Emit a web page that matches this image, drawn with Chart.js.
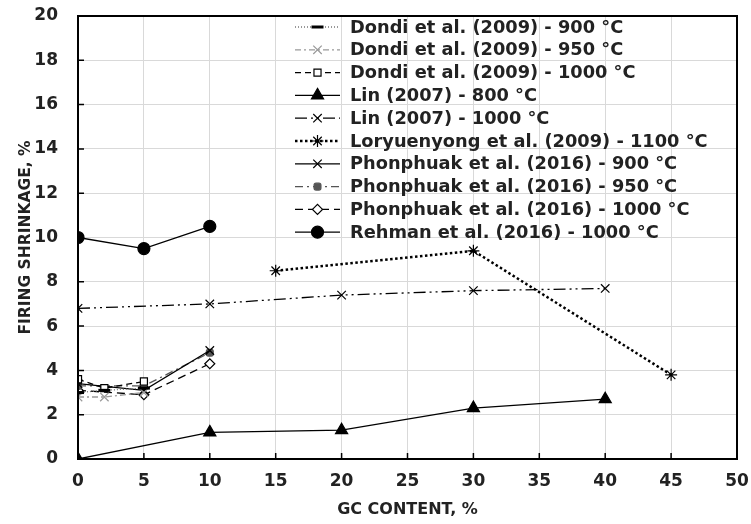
<!DOCTYPE html>
<html>
<head>
<meta charset="utf-8">
<script src="https://cdn.jsdelivr.net/npm/chart.js@4"></script>
<style>
  html, body { margin: 0; padding: 0; background: #fff; }
</style>
</head>
<body>
<canvas id="myChart" width="751" height="524"></canvas>
<script>
// data
var dondiX = [0, 2, 5]
var dondi900 = [3.0, 3.1, 3.2]
var dondi950 = [2.8, 2.8, 3.0]
var dondi1000 = [3.6, 3.2, 3.5]
var linX = [0, 10, 20, 30, 40]
var lin800 = [0, 1.2, 1.3, 2.3, 2.7]
var lin1000 = [6.8, 7.0, 7.4, 7.6, 7.7]
var loryX = [15, 30, 45]
var lory1100 = [8.5, 9.4, 3.8]
var phonX = [0, 5, 10]
var phon900 = [3.4, 3.1, 4.9]
var phon950 = [3.3, 3.3, 4.8]
var phon1000 = [3.1, 2.9, 4.3]
var rehmanX = [0, 5, 10]
var rehman1000 = [10, 9.5, 10.5]
var seriesNames = [
  "Dondi et al. (2009) - 900 °C",
  "Dondi et al. (2009) - 950 °C",
  "Dondi et al. (2009) - 1000 °C",
  "Lin (2007) - 800 °C",
  "Lin (2007) - 1000 °C",
  "Loryuenyong et al. (2009) - 1100 °C",
  "Phonphuak et al. (2016) - 900 °C",
  "Phonphuak et al. (2016) - 950 °C",
  "Phonphuak et al. (2016) - 1000 °C",
  "Rehman et al. (2016) - 1000 °C"
]
var xTicks = [0, 5, 10, 15, 20, 25, 30, 35, 40, 45, 50]
var yTicks = [0, 2, 4, 6, 8, 10, 12, 14, 16, 18, 20]

function pts(xs, ys) {
  return xs.map((x, i) => ({ x: x, y: ys[i] }))
}

var fontFam = "'DejaVu Sans', sans-serif"

function ds(i, xs, ys, o) {
  return Object.assign({
    label: seriesNames[i],
    data: pts(xs, ys),
    borderColor: "#000",
    backgroundColor: "#000",
    pointBorderColor: "#000",
    pointBackgroundColor: "#000",
    borderWidth: 1.3,
    pointRadius: 5,
    pointBorderWidth: 1.2,
    borderDash: [],
    fill: false,
    tension: 0
  }, o)
}

var datasets = [
  ds(0, dondiX, dondi900, { borderColor: "#777", borderDash: [1, 2], pointStyle: "line", pointBorderWidth: 3, pointRadius: 6 }),
  ds(1, dondiX, dondi950, { borderColor: "#999", borderDash: [6, 3, 2, 3], pointStyle: "crossRot", pointBorderColor: "#999", pointRadius: 6 }),
  ds(2, dondiX, dondi1000, { borderDash: [6, 4], pointStyle: "rect", pointBackgroundColor: "#fff", pointRadius: 5 }),
  ds(3, linX, lin800, { pointStyle: "triangle", pointRadius: 7 }),
  ds(4, linX, lin1000, { borderDash: [12, 4, 2, 4, 2, 4], pointStyle: "crossRot", pointRadius: 6 }),
  ds(5, loryX, lory1100, { borderDash: [2.5, 2.5], borderWidth: 2.5, pointStyle: "star", pointRadius: 6 }),
  ds(6, phonX, phon900, { pointStyle: "crossRot", pointRadius: 6 }),
  ds(7, phonX, phon950, { borderColor: "#555", borderDash: [8, 4, 2, 4], pointStyle: "rectRounded", pointBackgroundColor: "#555", pointBorderColor: "#555", pointRadius: 4 }),
  ds(8, phonX, phon1000, { borderDash: [8, 5], pointStyle: "rectRot", pointBackgroundColor: "#fff", pointRadius: 5 }),
  ds(9, rehmanX, rehman1000, { pointStyle: "circle", pointRadius: 6 })
]

// frame, inner tick marks and the line+marker legend
var extras = {
  id: "extras",
  afterDraw(chart) {
    let ctx = chart.ctx
    let a = chart.chartArea
    let xs = chart.scales.x, ys = chart.scales.y
    ctx.save()
    ctx.strokeStyle = "#000"
    ctx.lineWidth = 2
    ctx.strokeRect(a.left, a.top, a.right - a.left, a.bottom - a.top)
    ctx.lineWidth = 1.5
    ctx.beginPath()
    yTicks.forEach(v => {
      let y = ys.getPixelForValue(v)
      ctx.moveTo(a.left, y); ctx.lineTo(a.left + 6, y)
    })
    xTicks.forEach(v => {
      let x = xs.getPixelForValue(v)
      ctx.moveTo(x, a.bottom); ctx.lineTo(x, a.bottom - 6)
    })
    ctx.stroke()

    // legend
    let x0 = 295, x1 = 340, tx = 350, y0 = 27, step = 22.8
    ctx.font = "bold 17.8px " + fontFam
    ctx.textBaseline = "middle"
    ctx.textAlign = "left"
    chart.data.datasets.forEach((d, i) => {
      let y = y0 + i * step
      ctx.strokeStyle = d.borderColor
      ctx.lineWidth = d.borderWidth
      ctx.setLineDash(d.borderDash)
      ctx.beginPath(); ctx.moveTo(x0, y); ctx.lineTo(x1, y); ctx.stroke()
      ctx.setLineDash([])
      ctx.strokeStyle = d.pointBorderColor
      ctx.fillStyle = d.pointBackgroundColor
      ctx.lineWidth = d.pointBorderWidth
      Chart.helpers.drawPoint(ctx, { pointStyle: d.pointStyle, radius: d.pointRadius, rotation: 0, borderWidth: d.pointBorderWidth }, (x0 + x1) / 2, y)
      ctx.fillStyle = "#222"
      ctx.fillText(d.label, tx, y + 1)
    })
    ctx.restore()
  }
}

Chart.defaults.font.family = fontFam
Chart.defaults.color = "#222"

new Chart("myChart", {
  type: "line",
  data: { datasets: datasets },
  options: {
    responsive: false,
    animation: false,
    devicePixelRatio: 1,
    layout: { padding: { top: 16, right: 14, left: 0, bottom: 0 } },
    plugins: {
      legend: { display: false },
      tooltip: { enabled: false }
    },
    scales: {
      x: {
        type: "linear",
        min: 0, max: 50,
        afterBuildTicks: s => { s.ticks = xTicks.map(v => ({ value: v })) },
        afterFit: s => { s.height = 65; s.paddingLeft = 0; s.paddingRight = 0 },
        grid: { color: "#d9d9d9", drawTicks: false },
        border: { color: "#000", width: 2 },
        ticks: { padding: 12, font: { size: 17, weight: "bold" }, color: "#222" },
        title: { display: true, text: "GC CONTENT, %", font: { size: 16, weight: "bold" }, color: "#222", padding: { top: 0, bottom: 5 } }
      },
      y: {
        min: 0, max: 20,
        afterBuildTicks: s => { s.ticks = yTicks.map(v => ({ value: v })) },
        afterFit: s => { s.width = 78; s.paddingTop = 0; s.paddingBottom = 0 },
        grid: { color: "#d9d9d9", drawTicks: false },
        border: { color: "#000", width: 2 },
        ticks: { padding: 20, font: { size: 17, weight: "bold" }, color: "#222" },
        title: { display: true, text: "FIRING SHRINKAGE, %", font: { size: 15.5, weight: "bold" }, color: "#222", padding: { top: 17, bottom: 0 } }
      }
    }
  },
  plugins: [extras]
});
</script>
</body>
</html>
